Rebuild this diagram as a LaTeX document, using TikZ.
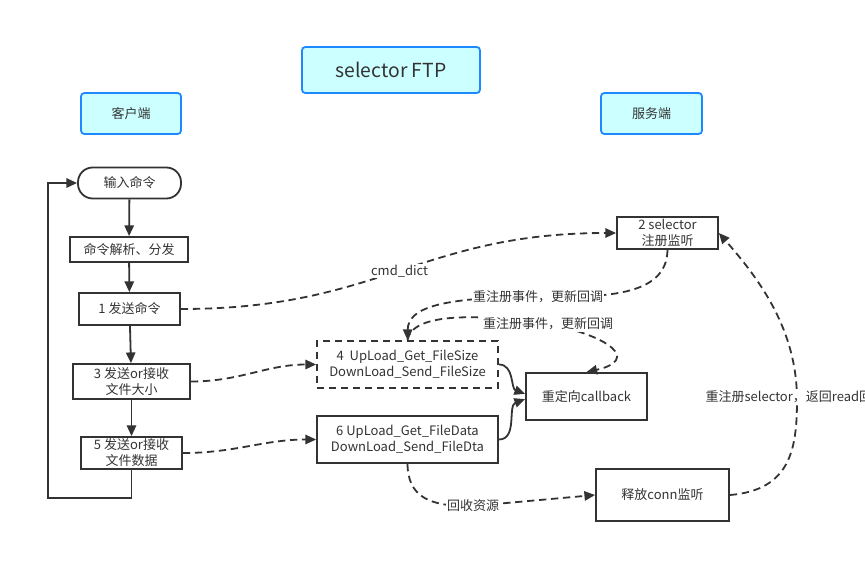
\documentclass[tikz,border=0pt]{standalone}
\usepackage{fontspec}
\setmainfont{Noto Sans CJK SC}
\usepackage{xcolor}
\usetikzlibrary{arrows.meta}
\definecolor{ink}{HTML}{333333}
\definecolor{headfill}{HTML}{CCFFFF}
\definecolor{headline}{HTML}{1E88FF}

\begin{document}
\begin{tikzpicture}[x=0.75pt, y=-0.75pt,
      font=\fontsize{9.75}{12}\selectfont, text=ink,
      box/.style={draw=ink, line width=1.35pt, align=center, inner sep=0pt},
      head/.style={draw=headline, fill=headfill, line width=1.35pt, rounded corners=2.5pt, inner sep=0pt},
      solid line/.style={draw=ink, line width=1.35pt},
      dash line/.style={draw=ink, line width=1.35pt, dash pattern=on 5.5pt off 3.5pt},
      arr/.style={-{Triangle[length=8pt,width=7pt]}},
      lbl/.style={fill=white, inner sep=1pt}]
      \useasboundingbox (0,0) rectangle (865,571);
      % headers
      \node[head, minimum width=133.5pt, minimum height=34.5pt, font=\fontsize{14.5}{16}\selectfont] (title) at (391,70) {selector FTP};
      \node[head, minimum width=75pt, minimum height=30.75pt] (client) at (131,113.5) {客户端};
      \node[head, minimum width=75.75pt, minimum height=30.75pt] (server) at (651.5,113.5) {服务端};
      % client side
      \node[box, rounded corners=11pt, minimum width=77.25pt, minimum height=23.25pt] (input) at (129.5,183) {输入命令};
      \node[box, minimum width=88.5pt, minimum height=18.75pt] (parse) at (129,249.5) {命令解析、分发};
      \node[box, minimum width=75.75pt, minimum height=24pt] (send) at (129.5,309) {1 发送命令};
      \node[box, minimum width=87.75pt, minimum height=26.25pt] (size) at (131.5,381.5) {3 发送or接收\\文件大小};
      \node[box, minimum width=75.75pt, minimum height=24pt] (data) at (131.5,453) {5 发送or接收\\文件数据};
      \coordinate (loop) at (48,498);
      % server side
      \node[box, minimum width=75.75pt, minimum height=24pt] (sel) at (667.5,233) {2 selector\\注册监听};
      \node[box, dash line, minimum width=135.75pt, minimum height=35.25pt] (fsize) at (407.5,364.5) {4\ \ UpLoad\_Get\_FileSize\\DownLoad\_Send\_FileSize};
      \node[box, minimum width=135.75pt, minimum height=35.25pt] (fdata) at (407.5,439.5) {6 UpLoad\_Get\_FileData\\DownLoad\_Send\_FileDta};
      \node[box, minimum width=90.75pt, minimum height=35.25pt] (callback) at (586.5,396.5) {重定向callback};
      \node[box, minimum width=99.75pt, minimum height=39pt] (release) at (662.5,495) {释放conn监听};

      \draw[solid line, arr] (input) -- (parse);
      \draw[solid line, arr] (parse) -- (send);
      \draw[solid line, arr] (send) -- (size);
      \draw[solid line, arr] (size) -- (data);
      \draw[solid line, arr] (data.south) |- (loop) |- (input.west);

      \draw[dash line, arr] (send.east) .. controls (380,309) and (420,233) .. (sel.west)
            node[lbl, pos=0.5] {cmd\_dict};
      \draw[dash line, arr] (sel.south) .. controls (667,298) and (600,297) .. (538,297)
            node[lbl] {重注册事件，更新回调} .. controls (440,297) and (408,308) .. (fsize.north);
      \draw[dash line, arr] (fsize.north) .. controls (412,312) and (480,314) .. (548,324)
            node[lbl] {重注册事件，更新回调} .. controls (610,336) and (640,360) .. (callback.north);
      \draw[dash line, arr] (size.east) to[out=0, in=180] (fsize.west);
      \draw[dash line, arr] (data.east) to[out=0, in=180] (fdata.west);
      \draw[solid line, arr] (fsize.east) to[out=0, in=160] ([yshift=2pt]callback.west);
      \draw[solid line, arr] (fdata.east) to[out=0, in=200] ([yshift=-2pt]callback.west);
      \draw[dash line, arr] (fdata.south) .. controls (408,496) and (428,507) .. (473,506)
            node[lbl] {回收资源} -- (release.west);
      \draw[dash line, arr] (release.east) .. controls (790,490) and (797,450) .. (797,400)
            .. controls (797,330) and (760,280) .. (sel.east);
      \node[lbl, anchor=west] (relabel) at (704,397) {重注册selector，返回read回调};
    \end{tikzpicture}
\end{document}
